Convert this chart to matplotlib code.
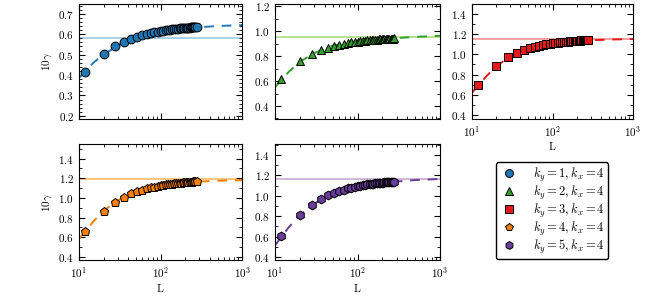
import numpy as np
import matplotlib
matplotlib.use('Agg')
import matplotlib.pyplot as plt
from matplotlib.ticker import MultipleLocator

plt.rcParams['font.family'] = 'serif'
plt.rcParams['font.serif'] = ['cmr10']
plt.rcParams['mathtext.fontset'] = 'cm'
plt.rcParams['axes.formatter.use_mathtext'] = True
plt.rcParams['font.size'] = 8

# system sizes
L = [12, 20, 28, 36, 44, 52, 60, 68, 76, 84, 92, 100, 108, 116, 124, 132, 140,
     148, 156, 164, 172, 180, 188, 196, 204, 212, 220, 228, 236, 244, 252, 260,
     268, 276]

# 10*gamma for k_y = 1..5 (k_x = 4)
g_ky1 = [0.413, 0.501, 0.540, 0.563, 0.578, 0.588, 0.596, 0.602, 0.606, 0.610,
         0.613, 0.616, 0.618, 0.620, 0.621, 0.623, 0.624, 0.625, 0.626, 0.627,
         0.628, 0.629, 0.629, 0.630, 0.631, 0.631, 0.632, 0.632, 0.633, 0.633,
         0.633, 0.634, 0.634, 0.634]
g_ky2 = [0.617, 0.762, 0.817, 0.848, 0.867, 0.881, 0.891, 0.899, 0.905, 0.910,
         0.914, 0.917, 0.920, 0.922, 0.925, 0.926, 0.928, 0.930, 0.931, 0.932,
         0.933, 0.934, 0.935, 0.936, 0.937, 0.938, 0.938, 0.939, 0.939, 0.940,
         0.940, 0.941, 0.941, 0.942]
g_ky3 = [0.695, 0.887, 0.972, 1.013, 1.040, 1.058, 1.072, 1.082, 1.090, 1.097,
         1.102, 1.107, 1.111, 1.114, 1.117, 1.119, 1.122, 1.124, 1.125, 1.127,
         1.129, 1.130, 1.131, 1.132, 1.133, 1.134, 1.135, 1.136, 1.137, 1.138,
         1.138, 1.139, 1.139, 1.140]
g_ky4 = [0.660, 0.872, 0.963, 1.014, 1.047, 1.069, 1.085, 1.098, 1.108, 1.116,
         1.122, 1.128, 1.133, 1.137, 1.140, 1.144, 1.146, 1.149, 1.151, 1.153,
         1.155, 1.156, 1.158, 1.159, 1.161, 1.162, 1.163, 1.164, 1.165, 1.166,
         1.167, 1.167, 1.168, 1.169]
g_ky5 = [0.602, 0.811, 0.912, 0.969, 1.005, 1.030, 1.048, 1.062, 1.073, 1.082,
         1.089, 1.095, 1.100, 1.105, 1.109, 1.112, 1.115, 1.118, 1.121, 1.123,
         1.125, 1.127, 1.128, 1.130, 1.131, 1.133, 1.134, 1.135, 1.136, 1.137,
         1.138, 1.139, 1.139, 1.140]

# fitted curves (dashed)
L_fit = [10, 12, 15, 20, 30, 50, 100, 200, 500, 1000]
fit_ky1 = [0.385, 0.420, 0.460, 0.500, 0.545, 0.583, 0.612, 0.630, 0.640, 0.645]
fit_ky2 = [0.550, 0.610, 0.680, 0.755, 0.825, 0.885, 0.920, 0.938, 0.955, 0.964]
fit_ky3 = [0.620, 0.690, 0.780, 0.880, 0.980, 1.055, 1.105, 1.132, 1.145, 1.150]
fit_ky4 = [0.585, 0.660, 0.760, 0.870, 0.975, 1.065, 1.125, 1.158, 1.175, 1.180]
fit_ky5 = [0.513, 0.600, 0.700, 0.810, 0.925, 1.020, 1.093, 1.130, 1.155, 1.166]

# thermodynamic limit (horizontal lines)
g_inf = [0.58, 0.95, 1.155, 1.192, 1.168]

ky = [1, 2, 3, 4, 5]
data = [g_ky1, g_ky2, g_ky3, g_ky4, g_ky5]
fits = [fit_ky1, fit_ky2, fit_ky3, fit_ky4, fit_ky5]
markers = ['o', '^', 's', 'p', 'h']
dark = ['#1f78b4', '#33a02c', '#e31a1c', '#ff7f00', '#6a3d9a']
light = ['#a6cee3', '#b2df8a', '#fb9a99', '#fdbf6f', '#cab2d6']
ylims = [(0.184, 0.75), (0.295, 1.222), (0.36, 1.50), (0.365, 1.545), (0.367, 1.506)]

# axes positions [left, bottom, width, height] in figure fraction
pos = [[0.1215, 0.603, 0.251, 0.385],
       [0.423, 0.603, 0.254, 0.385],
       [0.726, 0.603, 0.248, 0.385],
       [0.1215, 0.132, 0.251, 0.387],
       [0.423, 0.132, 0.254, 0.387]]

fig = plt.figure(figsize=(6.5, 3.0), dpi=100)

handles = []
for i in range(5):
    ax = fig.add_axes(pos[i])
    ax.set_xscale('log')
    ax.axhline(g_inf[i], color=light[i], lw=1.3, zorder=1)
    ax.plot(L_fit, fits[i], ls=(0, (5, 4)), color=dark[i], lw=1.4, zorder=2)
    h, = ax.plot(L, data[i], ls='none', marker=markers[i], ms=6.3,
                 mfc=dark[i], mec='k', mew=0.7, zorder=3,
                 label=r'$k_y=%d,k_x=4$' % ky[i])
    handles.append(h)
    ax.set_xlim(10, 1000)
    ax.set_ylim(ylims[i])
    if i == 0:
        ax.yaxis.set_major_locator(MultipleLocator(0.1))
        ax.yaxis.set_minor_locator(MultipleLocator(0.02))
    else:
        ax.yaxis.set_major_locator(MultipleLocator(0.2))
        ax.yaxis.set_minor_locator(MultipleLocator(0.1))
    ax.tick_params(which='both', direction='in', top=True, right=True)
    ax.tick_params(which='major', length=4, width=0.8)
    ax.tick_params(which='minor', length=2, width=0.6)
    if i in (0, 1):
        ax.set_xticklabels([])
    else:
        ax.set_xlabel('L', labelpad=3)
    if i in (0, 3):
        ax.set_ylabel(r'$10\gamma$', labelpad=3)

leg = fig.legend(handles=handles, loc='upper left', bbox_to_anchor=(0.753, 0.48),
                 numpoints=1, markerscale=0.9, frameon=True, fancybox=True,
                 edgecolor='k', framealpha=1, fontsize=9, handletextpad=1.1,
                 handlelength=1.6, labelspacing=0.0, borderpad=0.28)
leg.get_frame().set_linewidth(1.0)

fig.savefig('out.png', dpi=100)
